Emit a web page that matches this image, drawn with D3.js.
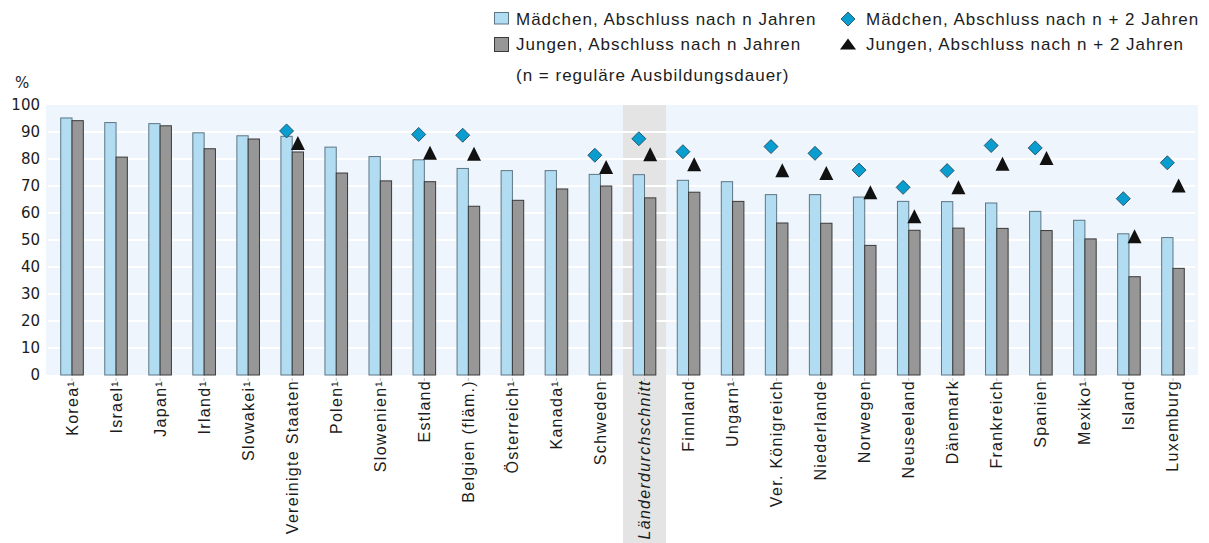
<!DOCTYPE html>
<html>
<head>
<meta charset="utf-8">
<script src="https://cdnjs.cloudflare.com/ajax/libs/d3/7.8.5/d3.min.js"></script>
<style>
    body { margin: 0; background: #fff; }
    text { font-family: 'Liberation Sans', Arial, sans-serif; fill: #1c1c1c; }
    .tick-y { font-family: 'DejaVu Sans', sans-serif; font-size: 15px; }
    .cat { font-size: 16px; letter-spacing: 1.3px; }
    .leg { font-size: 17px; letter-spacing: 1px; }
</style>
</head>
<body>
<script>
    const categories = ['Korea¹', 'Israel¹', 'Japan¹', 'Irland¹', 'Slowakei¹', 'Vereinigte Staaten', 'Polen¹',
        'Slowenien¹', 'Estland', 'Belgien (fläm.)', 'Österreich¹', 'Kanada¹', 'Schweden', 'Länderdurchschnitt',
        'Finnland', 'Ungarn¹', 'Ver. Königreich', 'Niederlande', 'Norwegen', 'Neuseeland', 'Dänemark',
        'Frankreich', 'Spanien', 'Mexiko¹', 'Island', 'Luxemburg']
    const girlsN = [95.2, 93.5, 93.1, 89.7, 88.6, 88.4, 84.4, 80.9, 79.7, 76.5, 75.7, 75.7, 74.3, 74.2,
        72.1, 71.6, 66.8, 66.8, 65.9, 64.3, 64.2, 63.7, 60.6, 57.3, 52.3, 50.9]
    const boysN = [94.2, 80.7, 92.3, 83.8, 87.4, 82.6, 74.8, 71.9, 71.6, 62.5, 64.7, 68.9, 70.0, 65.6,
        67.7, 64.3, 56.3, 56.2, 48.0, 53.6, 54.4, 54.3, 53.5, 50.4, 36.4, 39.5]
    const girlsN2 = [null, null, null, null, null, 90.4, null, null, 89.1, 88.8, null, null, 81.4, 87.5,
        82.7, null, 84.6, 82.1, 75.9, 69.5, 75.7, 85.0, 84.1, null, 65.3, 78.6]
    const boysN2 = [null, null, null, null, null, 85.9, null, null, 82.3, 81.9, null, null, 77.0, 81.8,
        78.1, null, 75.8, 74.8, 67.7, 58.8, 69.5, 78.2, 80.4, null, 51.4, 70.2]
    const yTicks = [0, 10, 20, 30, 40, 50, 60, 70, 80, 90, 100]
    const averageName = 'Länderdurchschnitt'

    const W = 1209, H = 543
    const blue = '#b2dcf1', blueStroke = '#5d7684'
    const grey = '#979797', greyStroke = '#3a3a3a'
    const diamondFill = '#0a9dcf'

    const svg = d3.select('body').append('svg').attr('width', W).attr('height', H)

    const x = d3.scaleBand().domain(categories).range([50, 1195]).padding(0)
    const y = d3.scaleLinear().domain([0, 100]).range([375, 105])
    const barW = 11.3
    const sub = d3.scaleBand().domain(['g', 'b']).range([x.bandwidth() / 2 - barW, x.bandwidth() / 2 + barW])

    // plot background
    svg.append('rect').attr('x', 46).attr('y', y(100)).attr('width', 1152).attr('height', y(0) - y(100))
        .attr('fill', '#eef5fc')

    // average band
    svg.append('rect').attr('x', x(averageName) + 0.5).attr('y', y(100))
        .attr('width', x.bandwidth() - 1).attr('height', H - y(100)).attr('fill', '#e4e4e4')

    // gridlines
    svg.append('g').selectAll('line').data(yTicks.filter(d => d > 0 && d < 100)).enter().append('line')
        .attr('x1', 48).attr('x2', 1195).attr('y1', d => y(d)).attr('y2', d => y(d))
        .attr('stroke', '#fff').attr('stroke-width', 2)

    // y axis labels
    const yAxis = d3.axisLeft(y).tickValues(yTicks).tickSize(0).tickPadding(0)
    const gy = svg.append('g').attr('transform', 'translate(40,0)').call(yAxis)
    gy.select('.domain').remove()
    gy.selectAll('text').attr('class', 'tick-y').attr('fill', '#1c1c1c')
    svg.append('text').attr('x', 15).attr('y', 88).attr('class', 'tick-y').text('%')

    const groups = svg.append('g').selectAll('g').data(categories).enter().append('g')
        .attr('transform', d => `translate(${x(d)},0)`)

    groups.append('rect')
        .attr('x', sub('g')).attr('width', barW)
        .attr('y', (d, i) => y(girlsN[i])).attr('height', (d, i) => y(0) - y(girlsN[i]))
        .attr('fill', blue).attr('stroke', blueStroke).attr('stroke-width', 1)
    groups.append('rect')
        .attr('x', sub('b')).attr('width', barW)
        .attr('y', (d, i) => y(boysN[i])).attr('height', (d, i) => y(0) - y(boysN[i]))
        .attr('fill', grey).attr('stroke', greyStroke).attr('stroke-width', 1)

    // small ticks under the axis
    groups.append('line').attr('x1', x.bandwidth() / 2).attr('x2', x.bandwidth() / 2)
        .attr('y1', y(0) + 3).attr('y2', y(0) + 6).attr('stroke', '#bbb')

    const diamond = 'M0,-7L7,0L0,7L-7,0Z'
    const triangle = 'M0,-7L7,7L-7,7Z'

    groups.filter((d, i) => girlsN2[i] != null).append('path')
        .attr('d', diamond)
        .attr('transform', d => {
            const i = categories.indexOf(d)
            return `translate(${sub('g') + barW / 2},${y(girlsN2[i])})`
        })
        .attr('fill', diamondFill).attr('stroke', '#1d3c4c').attr('stroke-width', 0.8)

    groups.filter((d, i) => boysN2[i] != null).append('path')
        .attr('d', triangle)
        .attr('transform', d => {
            const i = categories.indexOf(d)
            return `translate(${sub('b') + barW / 2},${y(boysN2[i])})`
        })
        .attr('fill', '#111')

    // category labels
    groups.append('text')
        .attr('class', 'cat')
        .attr('text-anchor', 'end')
        .attr('transform', `translate(${x.bandwidth() / 2 + 5.5},380) rotate(-90)`)
        .style('font-style', d => d === averageName ? 'italic' : null)
        .text(d => d)

    // legend
    const leg = svg.append('g')
    leg.append('rect').attr('x', 494.5).attr('y', 12.5).attr('width', 14).attr('height', 11.5)
        .attr('fill', blue).attr('stroke', blueStroke)
    leg.append('text').attr('class', 'leg').attr('x', 516).attr('y', 25).text('Mädchen, Abschluss nach n Jahren')
    leg.append('rect').attr('x', 494.5).attr('y', 37.5).attr('width', 14).attr('height', 14)
        .attr('fill', grey).attr('stroke', greyStroke)
    leg.append('text').attr('class', 'leg').attr('x', 516).attr('y', 50).text('Jungen, Abschluss nach n Jahren')
    leg.append('text').attr('class', 'leg').attr('x', 516).attr('y', 81).text('(n = reguläre Ausbildungsdauer)')

    leg.append('path').attr('d', diamond).attr('transform', 'translate(848,19)')
        .attr('fill', diamondFill).attr('stroke', '#1d3c4c').attr('stroke-width', 0.8)
    leg.append('text').attr('class', 'leg').attr('x', 866).attr('y', 25).text('Mädchen, Abschluss nach n + 2 Jahren')
    leg.append('path').attr('d', triangle).attr('transform', 'translate(848,44) scale(1.15,0.78)')
        .attr('fill', '#111')
    leg.append('text').attr('class', 'leg').attr('x', 866).attr('y', 50).text('Jungen, Abschluss nach n + 2 Jahren')
</script>
</body>
</html>
